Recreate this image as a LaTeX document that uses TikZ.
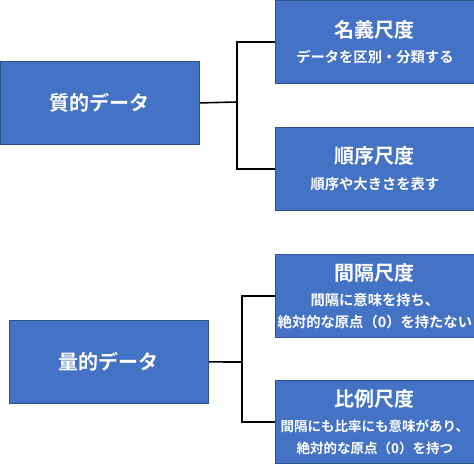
\documentclass[tikz,border=0pt]{standalone}
\usepackage{fontspec}
\setmainfont{Noto Sans CJK JP}[BoldFont={Noto Sans CJK JP Bold}]
\usetikzlibrary{positioning}

\definecolor{boxfill}{HTML}{4472C4}
\definecolor{boxedge}{HTML}{2F528F}

\newcommand{\scaletitle}[1]{{\fontsize{20}{24}\selectfont #1}}

\begin{document}
\begin{tikzpicture}[x=1pt,y=-1pt,
		databox/.style={draw=boxedge, line width=0.8pt, fill=boxfill, text=white,
			font=\bfseries\fontsize{14.3}{21.5}\selectfont, align=center,
			minimum width=199pt, minimum height=83pt, inner sep=0pt, anchor=north west},
		branch/.style={line width=1.6pt, black}]
		\useasboundingbox (0,0) rectangle (474,464);
		% qualitative
		\node[databox] (qual) at (0,61) {\scaletitle{質的データ}};
		\node[databox] (nominal) at (275,0) {\scaletitle{名義尺度}\\[4pt]データを区別・分類する};
		\node[databox] (ordinal) at (275,127) {\scaletitle{順序尺度}\\[4pt]順序や大きさを表す};
		\coordinate (qsplit) at (237,102);
		\draw[branch] (qual.east) -- (qsplit);
		\draw[branch] (nominal.west) -| (qsplit) |- (ordinal.west);
		% quantitative
		\node[databox] (quant) at (9,320) {\scaletitle{量的データ}};
		\node[databox] (interval) at (275,254) {\scaletitle{間隔尺度}\\[4pt]間隔に意味を持ち、\\絶対的な原点（0）を持たない};
		\node[databox, font=\bfseries\fontsize{13.5}{21.5}\selectfont] (ratio) at (275,380)
			{\scaletitle{比例尺度}\\[4pt]間隔にも比率にも意味があり、\\絶対的な原点（0）を持つ};
		\coordinate (nsplit) at (242,362);
		\draw[branch] (quant.east) -- (nsplit);
		\draw[branch] (interval.west) -| (nsplit) |- (ratio.west);
	\end{tikzpicture}
\end{document}
